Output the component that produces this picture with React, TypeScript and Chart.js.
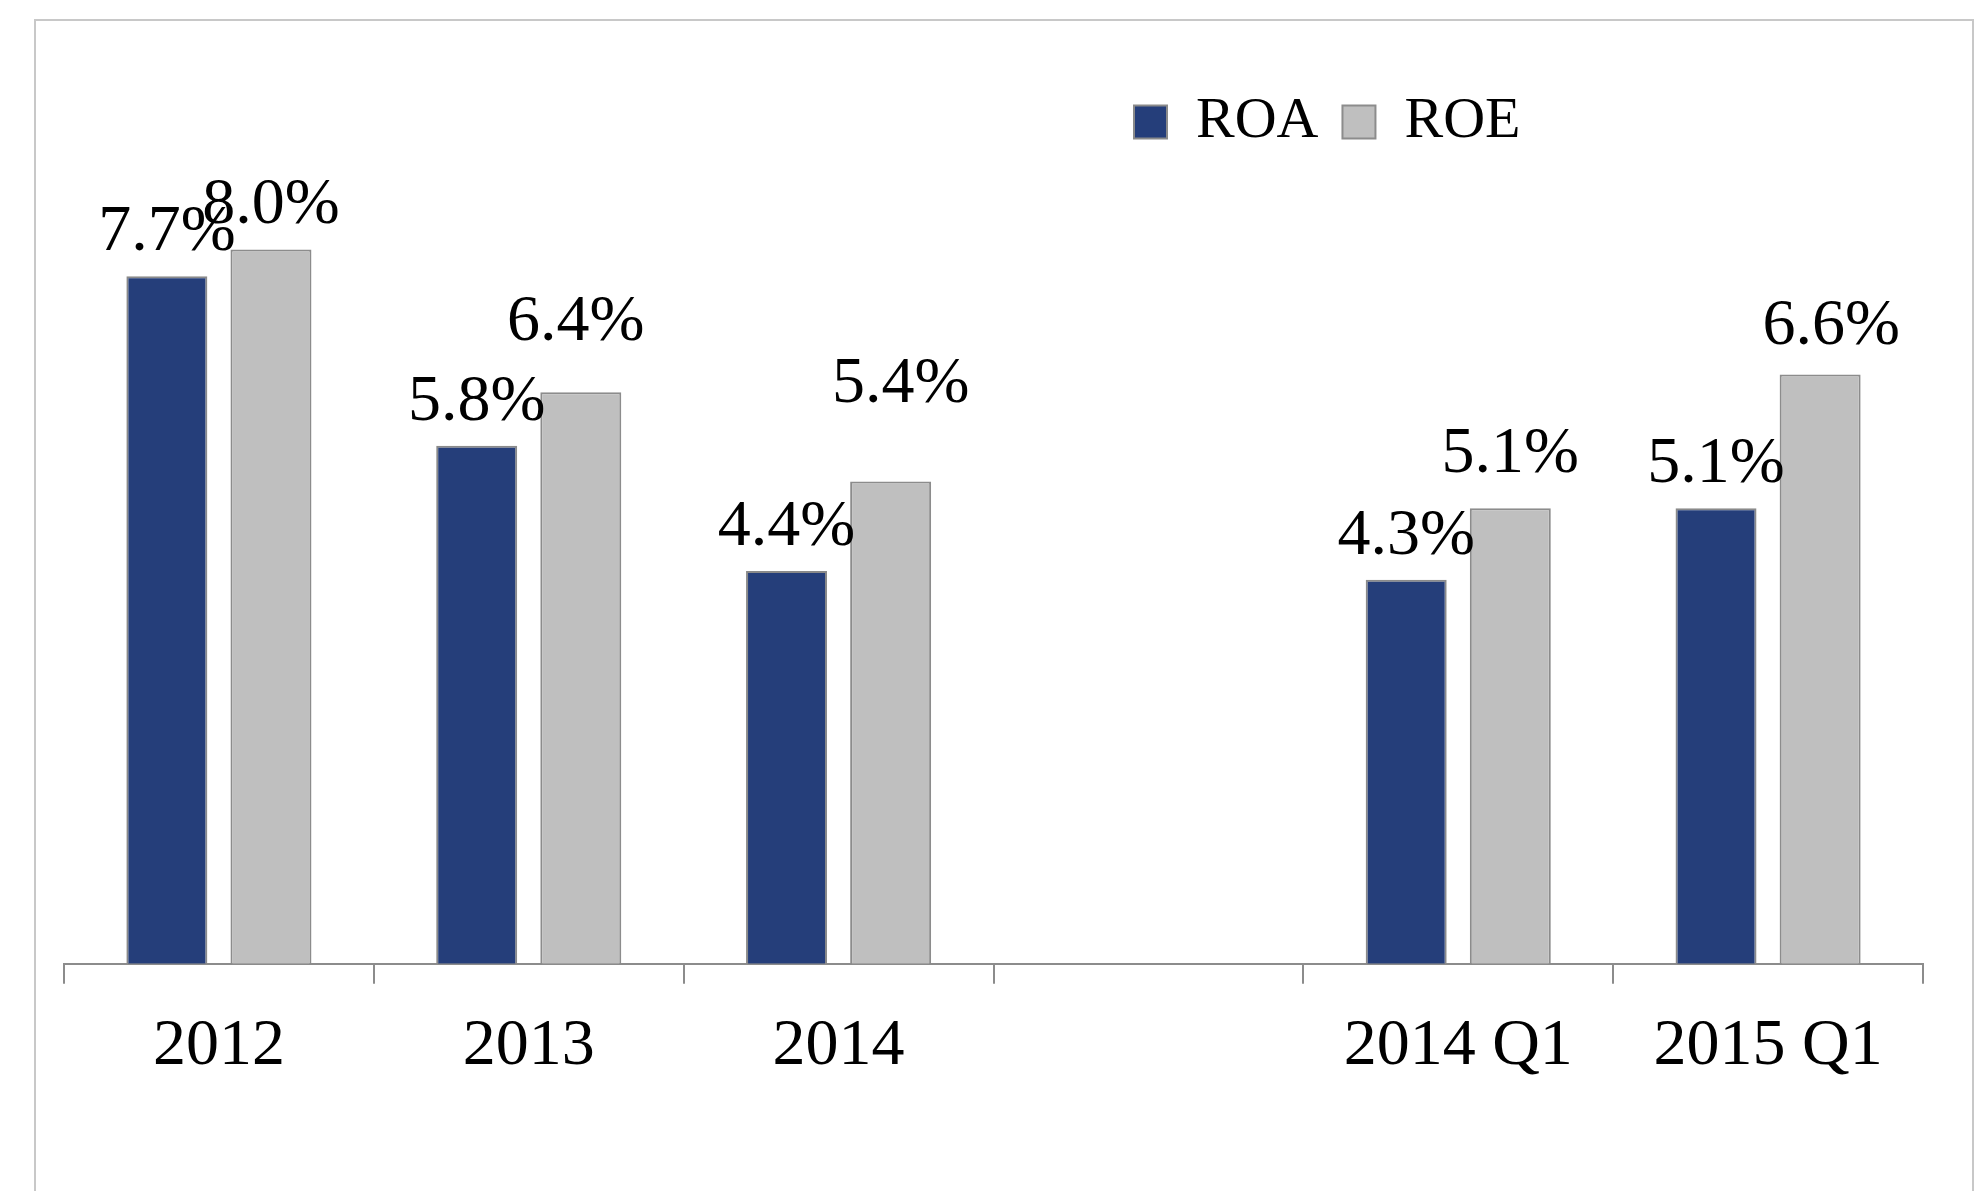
import React, { useEffect, useRef } from "react";
import { Chart, registerables } from "chart.js";

Chart.register(...registerables);

const categories = ["2012", "2013", "2014", "", "2014 Q1", "2015 Q1"];
const roaValues = [7.7, 5.8, 4.4, null, 4.3, 5.1];
const roeValues = [8.0, 6.4, 5.4, null, 5.1, 6.6];
const seriesNames = ["ROA", "ROE"];

// label nudges (style only): extra lift and horizontal shift in px per series
const labelLift = [
  [0, 0, 0, 0, 0, 0],
  [0, 26, 54, 0, 10, 4],
];
const labelShift = [
  [0, 0, 0, 0, 0, 0],
  [0, -5, 10, 0, 0, 11],
];

const FONT = "'Liberation Serif', 'Times New Roman', serif";

const framePlugin = {
  id: "frame",
  beforeDraw(chart: any) {
    const ctx = chart.ctx;
    ctx.save();
    ctx.fillStyle = "#ffffff";
    ctx.fillRect(0, 0, chart.width, chart.height);
    ctx.strokeStyle = "#c8c8c8";
    ctx.lineWidth = 2;
    ctx.strokeRect(35, 20, 1938, 1300);
    ctx.restore();
    const lg = chart.legend;
    if (lg) {
      lg.left = 1110;
      lg.right = 1980;
      lg.width = lg.right - lg.left;
    }
  },
};

const valueLabelPlugin = {
  id: "valueLabels",
  afterDatasetsDraw(chart: any) {
    const ctx = chart.ctx;
    ctx.save();
    ctx.font = `66px ${FONT}`;
    ctx.fillStyle = "#000000";
    ctx.textAlign = "center";
    ctx.textBaseline = "alphabetic";
    chart.data.datasets.forEach((ds: any, i: number) => {
      const meta = chart.getDatasetMeta(i);
      meta.data.forEach((el: any, j: number) => {
        const v = ds.data[j];
        if (v === null || v === undefined) return;
        const x = el.x + (labelShift[i][j] || 0);
        const y = el.y - 26 - (labelLift[i][j] || 0);
        ctx.fillText(v.toFixed(1) + "%", x, y);
      });
    });
    ctx.restore();
  },
};

export default function App() {
  const ref = useRef<HTMLCanvasElement | null>(null);

  useEffect(() => {
    if (!ref.current) return;
    const chart = new Chart(ref.current, {
      type: "bar",
      data: {
        labels: categories,
        datasets: [
          {
            label: seriesNames[0],
            data: roaValues,
            backgroundColor: "#253e7a",
            borderColor: "#8a8a8a",
            borderWidth: 2,
            borderSkipped: "bottom",
            categoryPercentage: 0.672,
            barPercentage: 0.778,
          },
          {
            label: seriesNames[1],
            data: roeValues,
            backgroundColor: "#bfbfbf",
            borderColor: "#8c8c8c",
            borderWidth: 2,
            borderSkipped: "bottom",
            categoryPercentage: 0.672,
            barPercentage: 0.778,
          },
        ] as any,
      },
      options: {
        responsive: false,
        animation: false,
        devicePixelRatio: 1,
        layout: {
          padding: { left: 64, right: 59, top: 69, bottom: 82 },
        },
        plugins: {
          legend: {
            display: true,
            position: "top",
            align: "start",
            labels: {
              font: { family: FONT, size: 58 },
              color: "#000000",
              boxWidth: 33,
              boxHeight: 33,
              padding: 24,
            },
          },
          tooltip: { enabled: false },
          title: { display: false },
        },
        scales: {
          x: {
            grid: {
              display: true,
              drawOnChartArea: false,
              drawTicks: true,
              tickLength: 20,
              color: "#8c8c8c",
              lineWidth: 2,
              offset: true,
            },
            border: { display: true, color: "#8c8c8c", width: 2 },
            ticks: {
              font: { family: FONT, size: 66 },
              color: "#000000",
              padding: 23,
              maxRotation: 0,
              autoSkip: false,
            },
          },
          y: {
            display: false,
            min: 0,
            max: 8.99,
          },
        },
      },
      plugins: [framePlugin, valueLabelPlugin],
    });
    return () => chart.destroy();
  }, []);

  return (
    <div style={{ position: "absolute", left: 0, top: 0, width: 1982, height: 1191, background: "#fff" }}>
      <canvas ref={ref} width={1982} height={1191} style={{ width: 1982, height: 1191, display: "block" }} />
    </div>
  );
}
